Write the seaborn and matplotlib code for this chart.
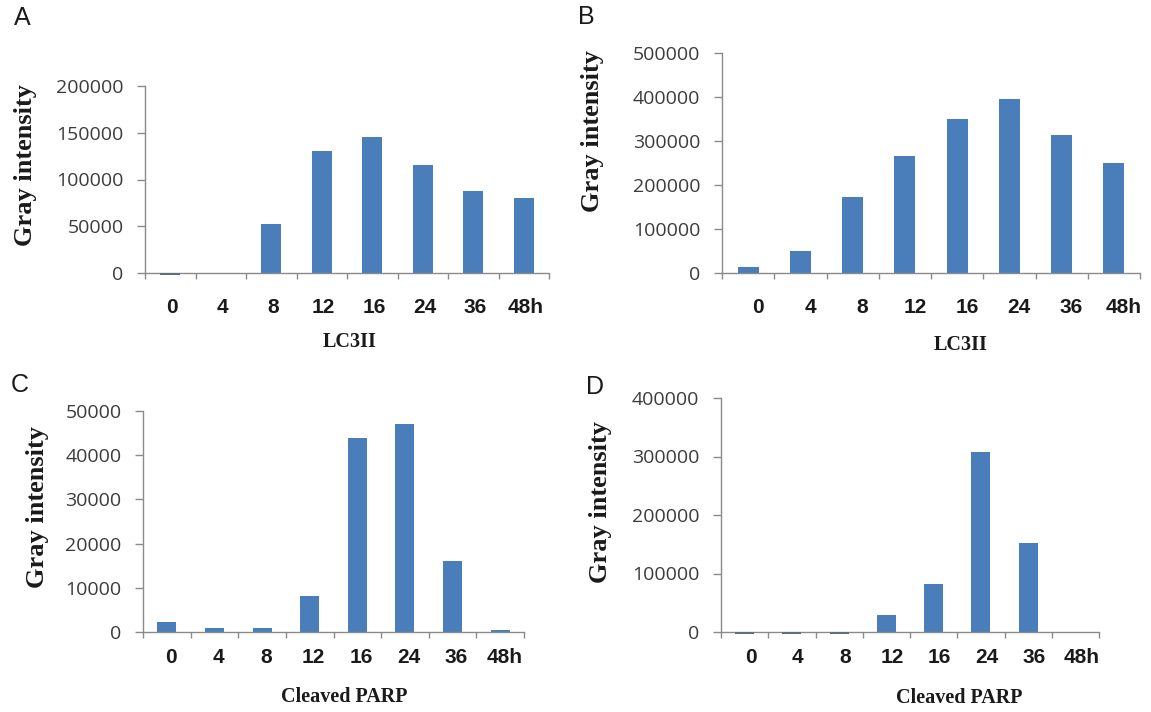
import numpy as np
import pandas as pd
import matplotlib
matplotlib.use("Agg")
import matplotlib.pyplot as plt
import matplotlib.transforms as mtransforms
import seaborn as sns

# ---- data ----
hours = ["0", "4", "8", "12", "16", "24", "36", "48h"]
lc3_a = [-2000, 0, 52500, 130500, 145500, 116000, 88000, 80500]
lc3_b = [13500, 50000, 172000, 266500, 350000, 396000, 313500, 250000]
parp_c = [2200, 1000, 1000, 8100, 43900, 47100, 16000, 500]
parp_d = [-3500, -3500, -3500, 28500, 82500, 308500, 151500, 0]

yticks_a = [0, 50000, 100000, 150000, 200000]
yticks_b = [0, 100000, 200000, 300000, 400000, 500000]
yticks_c = [0, 10000, 20000, 30000, 40000, 50000]
yticks_d = [0, 100000, 200000, 300000, 400000]

panel_letters = ["A", "B", "C", "D"]
xlabels = ["LC3II", "LC3II", "Cleaved PARP", "Cleaved PARP"]
ylabel = "Gray intensity"

BLUE = "#4A7EBB"
AXIS_GRAY = "#8A8A8A"

sns.set_theme(style="white")
plt.rcParams["font.family"] = ["DejaVu Sans"]

fig = plt.figure(figsize=(11.51, 7.12), dpi=100)

W, H = 1151, 712
# axes boxes in pixels: left, right, top, bottom
boxes = [
    (145, 549, 86, 273),
    (722, 1140, 53, 273),
    (143, 524, 411, 632),
    (721, 1099, 398, 632),
]
series = [lc3_a, lc3_b, parp_c, parp_d]
yticks = [yticks_a, yticks_b, yticks_c, yticks_d]
xtick_pad = [18, 18, 11.5, 11.5]
xtick_shift = [2, 10, 4, 6]  # horizontal pixel shift of category labels
ylab_pos = [(-0.297, 0.578), (-0.309, 0.645), (-0.278, 0.566), (-0.320, 0.556)]
xlab_pos = [(0.507, -0.369), (0.572, -0.327), (0.528, -0.294), (0.63, -0.282)]
letter_pos = [(22, 18), (586, 17), (20, 385), (595, 387)]

for i in range(4):
    l, r, t, b = boxes[i]
    ax = fig.add_axes([l / W, 1 - b / H, (r - l) / W, (b - t) / H])
    df = pd.DataFrame({"hour": hours, "value": series[i]})
    sns.barplot(data=df, x="hour", y="value", order=hours, ax=ax,
                color=BLUE, saturation=1, width=0.4, errorbar=None)
    for p in ax.patches:
        p.set_clip_on(False)
        p.set_edgecolor("none")
        if p.get_height() < 0:
            p.set_zorder(3)
            p.set_facecolor("#5E6E82")
    ax.set_xlim(-0.5, len(hours) - 0.5)
    ax.set_ylim(0, yticks[i][-1])
    ax.set_yticks(yticks[i])
    ax.set_yticklabels([str(v) for v in yticks[i]])
    ax.set_xticks(range(len(hours)))
    ax.set_xticklabels(hours)
    ax.set_xticks(np.arange(-0.5, len(hours), 1.0), minor=True)

    for s in ["top", "right"]:
        ax.spines[s].set_visible(False)
    for s in ["left", "bottom"]:
        ax.spines[s].set_color(AXIS_GRAY)
        ax.spines[s].set_linewidth(1.0)

    ax.tick_params(axis="x", which="major", length=0, pad=xtick_pad[i])
    ax.tick_params(axis="x", which="minor", length=4, width=1.0,
                   color=AXIS_GRAY, direction="out", bottom=True)
    ax.tick_params(axis="y", which="major", length=5.5, width=1.0,
                   color=AXIS_GRAY, direction="out", left=True, pad=10,
                   labelcolor="#3C3C3C")
    for lab in ax.get_yticklabels():
        lab.set_fontfamily(["Open Sans", "DejaVu Sans"])
        lab.set_fontsize(14)
    shift = mtransforms.ScaledTranslation(xtick_shift[i] / 100.0, 0,
                                          fig.dpi_scale_trans)
    for lab in ax.get_xticklabels():
        lab.set_fontfamily(["Liberation Sans", "DejaVu Sans"])
        lab.set_fontsize(15)
        lab.set_fontweight("bold")
        lab.set_color("#1A1A1A")
        lab.set_transform(lab.get_transform() + shift)

    ax.set_xlabel(xlabels[i], fontfamily=["Liberation Serif", "DejaVu Serif"],
                  fontsize=14.5, fontweight="bold", color="#1A1A1A")
    ax.xaxis.label.set_va("center")
    ax.xaxis.set_label_coords(*xlab_pos[i])
    ax.set_ylabel(ylabel, fontfamily=["Liberation Serif", "DejaVu Serif"],
                  fontsize=19, fontweight="bold", color="#1A1A1A")
    ax.yaxis.label.set_va("center")
    ax.yaxis.set_label_coords(*ylab_pos[i])

    lx, ly = letter_pos[i]
    fig.text(lx / W, 1 - ly / H, panel_letters[i], ha="center", va="center",
             fontsize=18, fontfamily=["Liberation Sans", "DejaVu Sans"],
             color="#1A1A1A")

fig.savefig("out.png", dpi=100, facecolor="white")
